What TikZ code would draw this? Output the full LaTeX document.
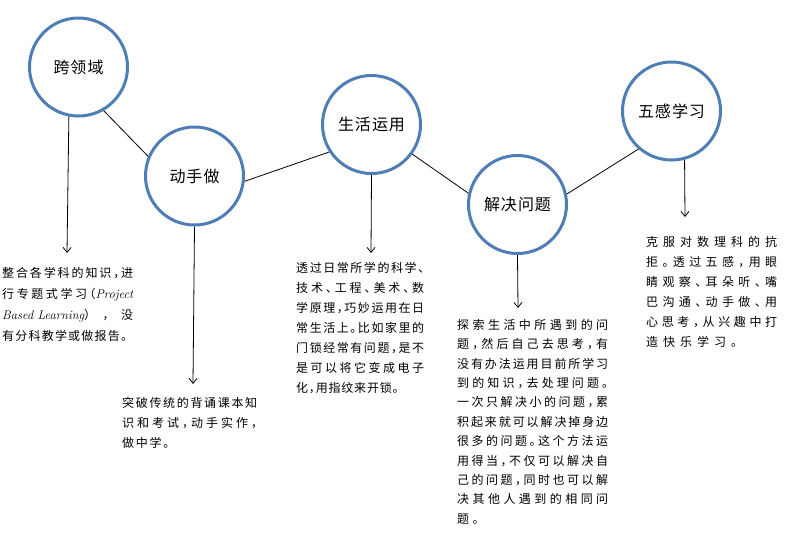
\documentclass[tikz,border=0pt]{standalone}
\usepackage{fontspec}
\usetikzlibrary{arrows.meta}
\newfontfamily\cjk{Noto Sans CJK SC}[RawFeature=+halt]
\definecolor{ringblue}{RGB}{79,125,182}
\newdimen\cjkgap
\newdimen\notew
\cjkgap=1pt
\makeatletter
\count@="4E00
\loop\XeTeXcharclass\count@=1 \advance\count@ by 1 \ifnum\count@<"A000 \repeat
\makeatother
\XeTeXcharclass "3001=3 \XeTeXcharclass "3002=3 \XeTeXcharclass "FF0C=3
\XeTeXcharclass "FF09=3 \XeTeXcharclass "FF08=2
\XeTeXinterchartokenstate=1
\XeTeXinterchartoks 1 1 = {\hskip\cjkgap plus 3pt minus 2pt}
\XeTeXinterchartoks 1 3 = {\hskip\cjkgap plus 3pt minus 2pt}
\XeTeXinterchartoks 3 1 = {\hskip\cjkgap plus 3pt minus 2pt}
\XeTeXinterchartoks 1 2 = {\hskip\cjkgap plus 3pt minus 2pt}
\XeTeXinterchartoks 3 2 = {\hskip\cjkgap plus 3pt minus 2pt}
\XeTeXinterchartoks 3 3 = {\hskip\cjkgap plus 3pt minus 2pt}
\hbadness=10000 \hfuzz=20pt
\newcommand\jl[1]{\makebox[\notew][s]{#1}}
\newcommand\en[1]{\hbox{\rmfamily\itshape\fontsize{12.5}{12.5}\selectfont #1}}

\begin{document}
\begin{tikzpicture}[x=1pt,y=-1pt,
  topic/.style={circle,draw=ringblue,line width=3pt,fill=white,minimum size=98pt,inner sep=0pt,font=\cjk\fontsize{16}{16}\selectfont},
  note/.style n args={3}{anchor=north west,inner sep=0pt,align=left,font=\cjk\fontsize{12}{#3}\selectfont,
    execute at begin node={\notew=#1\relax\cjkgap=#2\relax}},
  link/.style={line width=0.8pt},
  pointer/.style={-{Straight Barb[length=5pt,width=8pt]},line width=0.8pt}]
\useasboundingbox (0,0) rectangle (785,550);
\node[topic] (cross) at (78.5,67) {跨领域};
\node[topic] (hands) at (194.5,176) {动手做};
\node[topic] (life) at (371.5,124.5) {生活运用};
\node[topic] (solve) at (517.5,204.5) {解决问题};
\node[topic] (senses) at (671.5,111) {五感学习};
\draw[link] (cross.-60)--(hands.157); \draw[link] (hands.-6)--(life.-147);
\draw[link] (life.-36)--(solve.167); \draw[link] (solve.12)--(senses.-131);
\coordinate (crossend) at (67,253); \coordinate (handsend) at (193,384);
\coordinate (lifeend) at (371,253); \coordinate (solveend) at (518,308);
\coordinate (sensesend) at (685,217);
\draw[pointer] (cross.-101)--(crossend); \draw[pointer] (hands.south)--(handsend);
\draw[pointer] (life.south)--(lifeend); \draw[pointer] (solve.south)--(solveend);
\draw[pointer] (senses.-75)--(sensesend);
\node[note={131pt}{1.2pt}{21pt}] (crossnote) at (2,267) {%
\jl{整合各学科的知识，进}\\
\jl{行专题式学习（\en{Project}}\\
\jl{\en{Based Learning}），没}\\
有分科教学或做报告。};
\node[note={135pt}{1.7pt}{20pt}] (handsnote) at (122,397) {%
\jl{突破传统的背诵课本知}\\
\jl{识和考试，动手实作，}\\
做中学。};
\node[note={128pt}{0.8pt}{20pt}] (lifenote) at (296,262) {%
\jl{透过日常所学的科学、}\\
\jl{技术、工程、美术、数}\\
\jl{学原理，巧妙运用在日}\\
\jl{常生活上。比如家里的}\\
\jl{门锁经常有问题，是不}\\
\jl{是可以将它变成电子}\\
化，用指纹来开锁。};
\node[note={151pt}{3.4pt}{19.4pt}] (solvenote) at (457,319) {%
\jl{探索生活中所遇到的问}\\
\jl{题，然后自己去思考，有}\\
\jl{没有办法运用目前所学习}\\
\jl{到的知识，去处理问题。}\\
\jl{一次只解决小的问题，累}\\
\jl{积起来就可以解决掉身边}\\
\jl{很多的问题。这个方法运}\\
\jl{用得当，不仅可以解决自}\\
\jl{己的问题，同时也可以解}\\
\jl{决其他人遇到的相同问}\\
题。};
\node[note={131pt}{5pt}{20pt}] (sensesnote) at (646,236) {%
\jl{克服对数理科的抗}\\
\jl{拒。透过五感，用眼}\\
\jl{睛观察、耳朵听、嘴}\\
\jl{巴沟通、动手做、用}\\
\jl{心思考，从兴趣中打}\\
造快乐学习。};
\end{tikzpicture}
\end{document}
